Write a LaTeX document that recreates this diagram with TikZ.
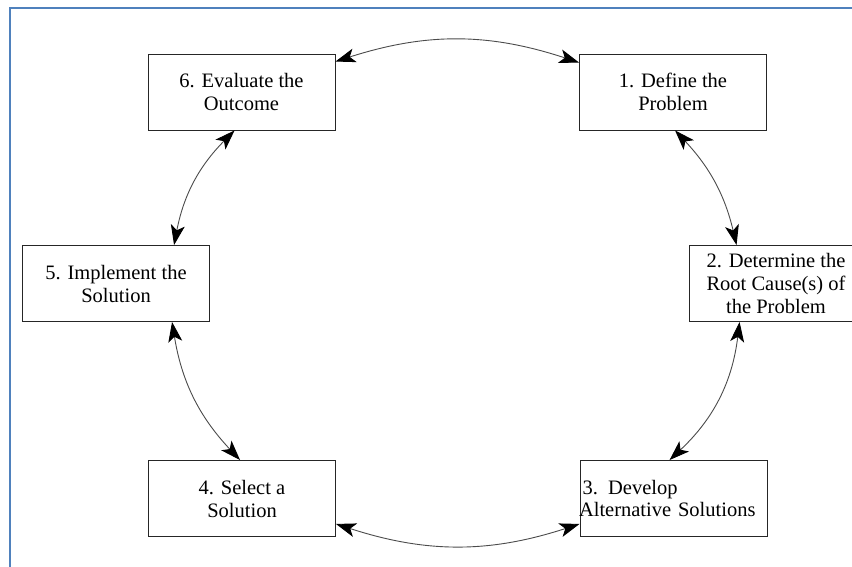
\documentclass[tikz,border=0pt]{standalone}
\usepackage{fontspec}
\setmainfont{Liberation Serif}
\newfontfamily\stepfont{Liberation Serif}
\usetikzlibrary{arrows.meta,calc}
\definecolor{framblue}{RGB}{79,129,189}
\definecolor{linegray}{RGB}{75,75,75}
\begin{document}
\begin{tikzpicture}[x=1pt,y=1pt,
  stepbox/.style={draw=black!85, line width=0.9pt, minimum width=187pt, minimum height=76pt,
    align=center, inner sep=2pt, font=\stepfont\fontsize{20.5}{23}\selectfont},
  cyc/.style={draw=linegray, line width=0.9pt,
    {Stealth[length=20pt,width=14pt,inset=5pt,black]}-{Stealth[length=20pt,width=14pt,inset=5pt,black]}},
  frame/.style={draw=framblue, line width=2pt}]
\useasboundingbox (0,0) rectangle (852,567);
% page frame (left and top edges)
\draw[frame] (10,0) -- (10,559) -- (852,559);

% the six steps
\node[stepbox] (n1) at (673,475) {1. Define the\\Problem};
\node[stepbox, minimum width=174pt] (n2) at (776,283.5) {2. Determine the\\Root Cause(s) of\\the Problem};
\node[stepbox, align=left, text width=187pt, inner xsep=0pt] (n3) at (673.5,68.5) {\hspace{2.5pt}3. Develop\\[-0.5pt]\hspace{-1pt}Alternative Solutions};
\node[stepbox] (n4) at (242,68.5) {4. Select a\\Solution};
\node[stepbox] (n5) at (116,283.5) {5. Implement the\\Solution};
\node[stepbox] (n6) at (241.5,475) {6. Evaluate the\\Outcome};

% attachment points of the connectors
\coordinate (a6) at ($(n6.north east)+(0,-8)$);
\coordinate (a1) at ($(n1.north west)+(0,-9)$);
\coordinate (b1) at ($(n1.south west)+(96,0)$);
\coordinate (b2) at ($(n2.north west)+(48,0)$);
\coordinate (c2) at ($(n2.south west)+(51,0)$);
\coordinate (c3) at ($(n3.north west)+(90,0)$);
\coordinate (d3) at ($(n3.south west)+(0,13)$);
\coordinate (d4) at ($(n4.south east)+(0,13)$);
\coordinate (e4) at ($(n4.north west)+(92,0)$);
\coordinate (e5) at ($(n5.south west)+(150,0)$);
\coordinate (f5) at ($(n5.north west)+(152,0)$);
\coordinate (f6) at ($(n6.south west)+(87,0)$);

% cycle of double-headed arcs
\draw[cyc] (a6) to[bend left=18] (a1);
\draw[cyc] (b1) to[bend left=15] (b2);
\draw[cyc] (c2) to[bend left=20] (c3);
\draw[cyc] (d3) to[bend left=18] (d4);
\draw[cyc] (e4) to[bend left=17] (e5);
\draw[cyc] (f5) to[bend left=17] (f6);
\end{tikzpicture}
\end{document}
